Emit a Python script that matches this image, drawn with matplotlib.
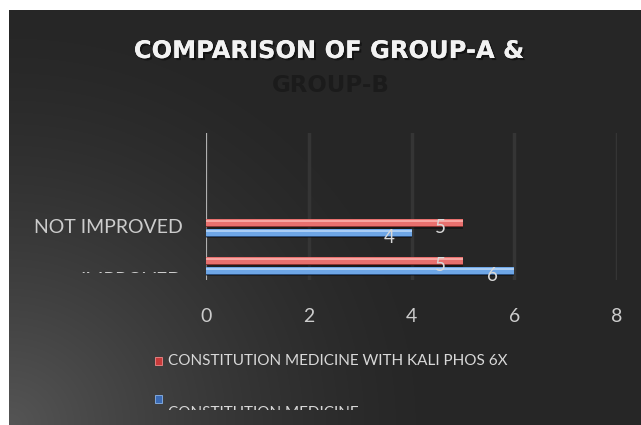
import numpy as np
import matplotlib
matplotlib.use("Agg")
import matplotlib.pyplot as plt
from matplotlib.patches import Rectangle
from matplotlib.transforms import Bbox
import matplotlib.patheffects as pe

# ---- data ----
categories = ["IMPROVED", "NOT IMPROVED"]
series_names = ["CONSTITUTION MEDICINE WITH KALI PHOS 6X", "CONSTITUTION MEDICINE"]
with_kali = [5, 5]          # red series
constitution = [6, 4]       # blue series
xticks = [0, 2, 4, 6, 8]
title_line1 = "COMPARISON OF GROUP-A &"
title_line2 = "GROUP-B"

W, H, DPI = 641, 425, 100
plt.rcParams['font.family'] = ['Lato', 'DejaVu Sans']
fig = plt.figure(figsize=(W / DPI, H / DPI), dpi=DPI, facecolor="white")

# ---- dark panel with radial glow at lower left ----
bg = fig.add_axes([9 / W, 0, 1 - 9 / W, 1 - 10 / H])
bg.set_axis_off()
ny, nx = 415, 632
yy, xx = np.mgrid[0:ny, 0:nx]
d = np.sqrt((xx / 1.0) ** 2 + ((ny - yy) * 1.05) ** 2)
t = np.clip(d / 440.0, 0, 1)
c0, c1 = 0x55 / 255, 0x26 / 255
val = c1 + (c0 - c1) * (1 - t) ** 1.5
img = np.dstack([val, val, val])
bg.imshow(img, aspect="auto", extent=[0, 1, 0, 1], origin="upper")
bg.set_xlim(0, 1); bg.set_ylim(0, 1)

# ---- plot axes ----
left, right, top, bottom = 206, 617, 133, 280
ax = fig.add_axes([left / W, (H - bottom) / H, (right - left) / W, (bottom - top) / H])
ax.patch.set_alpha(0)
for s in ax.spines.values():
    s.set_visible(False)

y = np.arange(len(categories))
bh = 0.23
off = 0.13
red, red_hi, red_lo = "#e8706e", "#f7a6a2", "#8a3432"
blue, blue_hi, blue_lo = "#6ea6e6", "#a9cdf5", "#2b4f7e"

for vals, dy, base, hi, lo in [(with_kali, off, red, red_hi, red_lo),
                              (constitution, -off, blue, blue_hi, blue_lo)]:
    ax.barh(y + dy - 0.03, vals, height=bh, color="#000000", alpha=0.35, zorder=2)
    ax.barh(y + dy, vals, height=bh, color=lo, zorder=3)
    ax.barh(y + dy + 0.015, vals, height=bh * 0.75, color=base, zorder=4)
    ax.barh(y + dy + 0.05, vals, height=bh * 0.25, color=hi, zorder=5)
    for yi, v in zip(y, vals):
        ax.text(v - 0.43, yi + dy - 0.13, str(v), color="#d8d8d8", fontsize=13.5,
                ha="center", va="center", zorder=6)

ax.set_xlim(0, 8)
ax.set_ylim(-0.37, 3.5)
ax.set_xticks(xticks)
ax.set_xticklabels([str(v) for v in xticks])
ax.xaxis.grid(True, color="#353535", linewidth=2.5, zorder=0)
ax.set_axisbelow(True)
ax.axvline(0, color="#b0b0b0", linewidth=1.5, zorder=1)
ax.tick_params(axis="x", length=0, pad=20, labelsize=14, labelcolor="#cccccc")
ax.tick_params(axis="y", length=0, pad=17, labelsize=14, labelcolor="#cccccc")
label_offsets = [-0.34, 0.05]
ax.set_yticks(y + np.array(label_offsets))
ax.set_yticklabels(categories)
clipbox = Bbox([[0, H - 273], [W, H]])
for lab in ax.get_yticklabels():
    lab.set_clip_on(True)
    lab.set_clip_box(clipbox)

# ---- title ----
shadow = [pe.withSimplePatchShadow(offset=(1.5, -1.5), shadow_rgbFace="black", alpha=0.45), pe.Normal()]
fig.text(329 / W, 1 - 51 / H, title_line1, ha="center", va="center", fontsize=17.4,
         fontweight="bold", color="#f2f2f2", family=["DejaVu Sans"],
         path_effects=shadow)
fig.text(331 / W, 1 - 85 / H, title_line2, ha="center", va="center", fontsize=16.5,
         fontweight="bold", color="#1b1b1b", family=["DejaVu Sans"])

# ---- legend (manual) ----
leg_colors = [("#c83a3a", "#f08a8a"), ("#3a6ab4", "#8ab4ea")]
leg_marker_y = [357, 395]
leg_text_y = [361, 413]
legclip = Bbox([[0, H - 410], [W, H]])
for name, (cdark, clight), my, ty in zip(series_names, leg_colors, leg_marker_y, leg_text_y):
    fig.patches.append(Rectangle((155 / W, 1 - (my + 8) / H), 7 / W, 8 / H,
                                 transform=fig.transFigure, facecolor=cdark,
                                 edgecolor=clight, linewidth=0.6))
    tx = fig.text(168 / W, 1 - ty / H, name, ha="left", va="center", fontsize=11,
                  color="#d8d8d8")
    tx.set_clip_on(True)
    tx.set_clip_box(legclip)

fig.savefig("out.png", dpi=DPI, facecolor="white")
